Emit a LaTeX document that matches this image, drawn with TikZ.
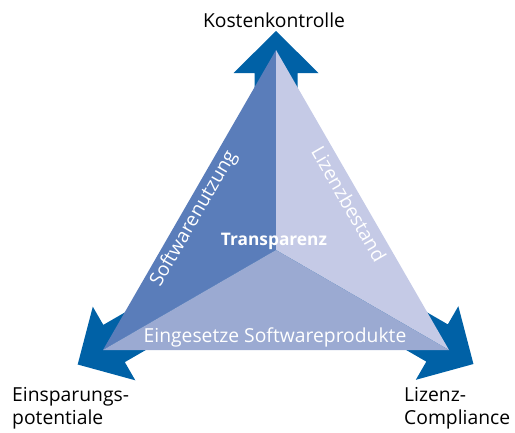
\documentclass[tikz,border=0pt]{standalone}
\usepackage{fontspec}
\setmainfont{Open Sans}
\definecolor{arrowblue}{HTML}{0061A6}
\definecolor{leftblue}{HTML}{5A7DBA}
\definecolor{rightblue}{HTML}{C5CAE6}
\definecolor{bottomblue}{HTML}{9BAAD2}
\begin{document}
\begin{tikzpicture}[x=1pt,y=1pt,
  label/.style={font=\fontsize{19.3}{23.5}\selectfont, inner sep=0pt, text=black},
  inlabel/.style={font=\fontsize{19.3}{23.5}\selectfont, inner sep=0pt, text=white},
  bigarrow/.style={fill=arrowblue, draw=none}]
\useasboundingbox (0,0) rectangle (515,-432);
\coordinate (O) at (276,-250);
\coordinate (A) at (276,-50);
\coordinate (B) at (103,-350);
\coordinate (C) at (449,-350);
% arrows
\foreach \ang/\len in {90/219, 210/229, 330/228}{
  \begin{scope}[shift={(O)}, rotate=\ang]
    \fill[bigarrow] (0,-21.5) -- ({\len-42},-21.5) -- ({\len-42},-42.5) -- (\len,0)
      -- ({\len-42},42.5) -- ({\len-42},21.5) -- (0,21.5) -- cycle;
  \end{scope}
}
% triangle parts
\fill[leftblue] (A) -- (O) -- (B) -- cycle;
\fill[rightblue] (A) -- (C) -- (O) -- cycle;
\fill[bottomblue] (B) -- (O) -- (C) -- cycle;
% texts
\node[label] (kosten) at (274,-20) {Kostenkontrolle};
\node[label, anchor=west, align=left] (einsp) at (12,-408) {Einsparungs-\\potentiale};
\node[label, anchor=west, align=left] (lizenzc) at (404,-408) {Lizenz-\\Compliance};
\node[inlabel, font=\fontsize{17.3}{21}\selectfont\bfseries] (transp) at (274,-241) {Transparenz};
\node[inlabel] (eing) at (275,-337) {Eingesetze Softwareprodukte};
\node[inlabel, rotate=60] (sw) at (194,-219) {Softwarenutzung};
\node[inlabel, rotate=-60] (lb) at (349,-204) {Lizenzbestand};
\end{tikzpicture}
\end{document}
